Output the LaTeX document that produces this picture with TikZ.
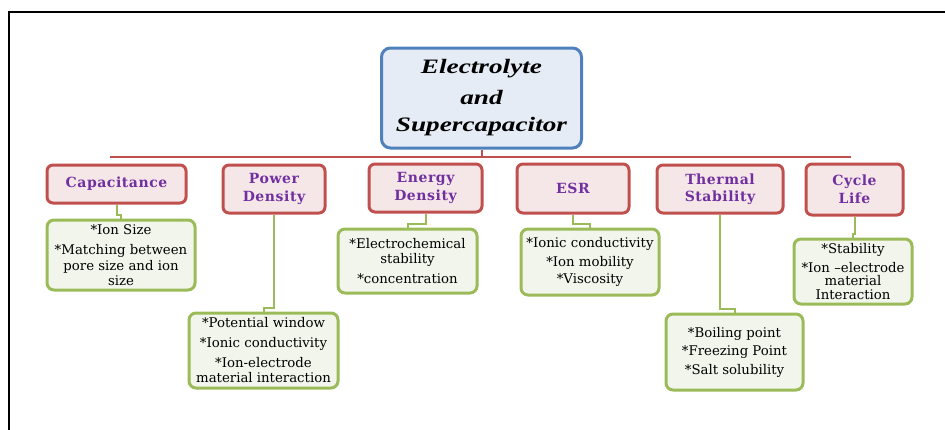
\documentclass[tikz,border=0pt]{standalone}
\usepackage{fontspec}
\usepackage{graphicx}
\setmainfont{DejaVu Serif}
\newfontfamily\rootfont{Liberation Serif}
\definecolor{rootblue}{HTML}{4F81BD}
\definecolor{rootfill}{HTML}{E6ECF5}
\definecolor{catred}{HTML}{C0504D}
\definecolor{catfill}{HTML}{F5E6E8}
\definecolor{catpurple}{HTML}{7030A0}
\definecolor{detgreen}{HTML}{9BBB59}
\definecolor{detfill}{HTML}{F2F5EC}
\tikzset{
  rootbox/.style={draw=rootblue, fill=rootfill, line width=3pt, rounded corners=9pt,
    inner sep=0pt, align=center, font=\rootfont\bfseries\itshape\fontsize{20.5}{27}\selectfont},
  catbox/.style={draw=catred, fill=catfill, line width=3pt, rounded corners=6pt,
    inner sep=0pt, align=center, text=catpurple,
    font=\bfseries\addfontfeature{LetterSpace=4}\fontsize{14}{17.5}\selectfont},
  detbox/.style={draw=detgreen, fill=detfill, line width=3pt, rounded corners=7pt,
    inner sep=0pt, align=center, font=\fontsize{13.3}{15.5}\selectfont},
  busline/.style={draw=catred, line width=2pt},
  gline/.style={draw=detgreen, line width=2pt},
  frameline/.style={draw=black, line width=2.5pt}
}
\begin{document}
\begin{tikzpicture}[x=1pt,y=-1pt]
\useasboundingbox (0,0) rectangle (945,429);
% frame
\coordinate (fbl) at (9,430);
\coordinate (ftl) at (9,12);
\coordinate (ftr) at (946,12);
\draw[frameline] (fbl) -- (ftl) -- (ftr);
% root
\node[rootbox, minimum width=200pt, minimum height=100pt] (root) at (481.5,98)
  {\scalebox{1.33}[1]{Electrolyte}\\[4pt]\scalebox{1.33}[1]{and}\\\scalebox{1.33}[1]{Supercapacitor}};
% bus
\coordinate (busL) at (110,157);
\coordinate (busR) at (851,157);
\draw[busline] (busL) -- (busR);
\draw[busline] (root.south) -- (root.south |- busL);
% categories
\node[catbox, minimum width=139pt, minimum height=38pt] (cap) at (116.5,184) {Capacitance};
\node[catbox, minimum width=102pt, minimum height=48pt] (pd) at (274,189) {Power\\Density};
\node[catbox, minimum width=113pt, minimum height=48pt] (ed) at (425.5,188) {Energy\\Density};
\node[catbox, minimum width=112pt, minimum height=49pt] (esr) at (573,188.5) {ESR};
\node[catbox, minimum width=126pt, minimum height=48pt] (th) at (720,189) {Thermal\\Stability};
\node[catbox, minimum width=97pt, minimum height=51pt] (cl) at (854.5,189.5) {Cycle\\Life};
% details
\node[detbox, minimum width=148pt, minimum height=70pt] (capd) at (121,255)
  {*Ion Size\\[5pt]*Matching between\\pore size and ion\\size};
\node[detbox, minimum width=149pt, minimum height=75pt] (pdd) at (263.5,350.5)
  {*Potential window\\[4.5pt]*Ionic conductivity\\[4pt]*Ion-electrode\\material interaction};
\node[detbox, minimum width=139pt, minimum height=64pt] (edd) at (407.5,261)
  {*Electrochemical\\stability\\[4pt]*concentration};
\node[detbox, minimum width=138pt, minimum height=66pt] (esrd) at (590,262)
  {*Ionic conductivity\\[3pt]*Ion mobility\\[2pt]*Viscosity};
\node[detbox, minimum width=137pt, minimum height=76pt] (thd) at (734.5,352)
  {*Boiling point\\[3pt]*Freezing Point\\[3pt]*Salt solubility};
\node[detbox, minimum width=118pt, minimum height=65pt] (cld) at (853,271.5)
  {*Stability\\[3pt]*Ion --electrode\\[-2pt]material\\[-2pt]Interaction};
% connectors
\draw[gline] (cap.south) -- ++(0,10) -| (capd.north);
\draw[gline] (pd.south) -- ++(0,93) -| (pdd.north);
\draw[gline] (ed.south) -- ++(0,10) -| (edd.north);
\draw[gline] (esr.south) -- ++(0,9) -| (esrd.north);
\draw[gline] (th.south) -- ++(0,94) -| (thd.north);
\draw[gline] (cl.south) -- ++(0,17) -| (cld.north);
\end{tikzpicture}
\end{document}
